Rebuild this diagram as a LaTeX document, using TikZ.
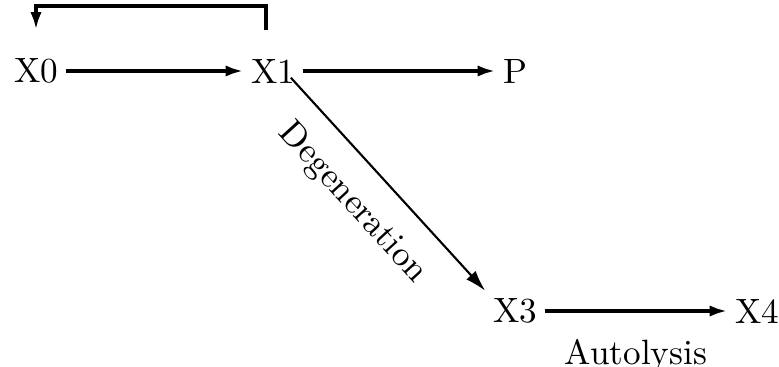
\documentclass[tikz,border=0pt]{standalone}
\usetikzlibrary{arrows.meta}
\begin{document}
\begin{tikzpicture}[x=0.01cm,y=-0.01cm,
    stage/.style={inner sep=2pt},
    flow/.style={line width=1.2pt,-{Latex[length=5pt,width=3.2pt]}},
    slow/.style={line width=0.6pt,-{Latex[length=6pt,width=3.6pt]}}]
    \useasboundingbox (0,0) rectangle (779,367);
    % States
    \node[stage] (X0) at (36,71) {X0};
    \node[stage] (X1) at (273,71) {X1};
    \node[stage] (P) at (515,71) {P};
    \node[stage] (X3) at (515,311) {X3};
    \node[stage] (X4) at (757,311) {X4};
    % Main flow
    \draw[flow] (X0) -- (X1);
    \draw[flow] (X1) -- (P);
    \draw[flow] (X3) -- node[below=4pt] {Autolysis} (X4);
    % Degeneration branch
    \draw[slow,shorten <=-5pt] (X1.south east) -- node[pos=0.43,sloped,below=3pt] {Degeneration} (X3.north west);
    % Feedback to X0
    \draw[flow] ([xshift=-2pt,yshift=6pt]X1.north) -- ++(0,-24) -| ([yshift=6pt]X0.north);
\end{tikzpicture}
\end{document}
